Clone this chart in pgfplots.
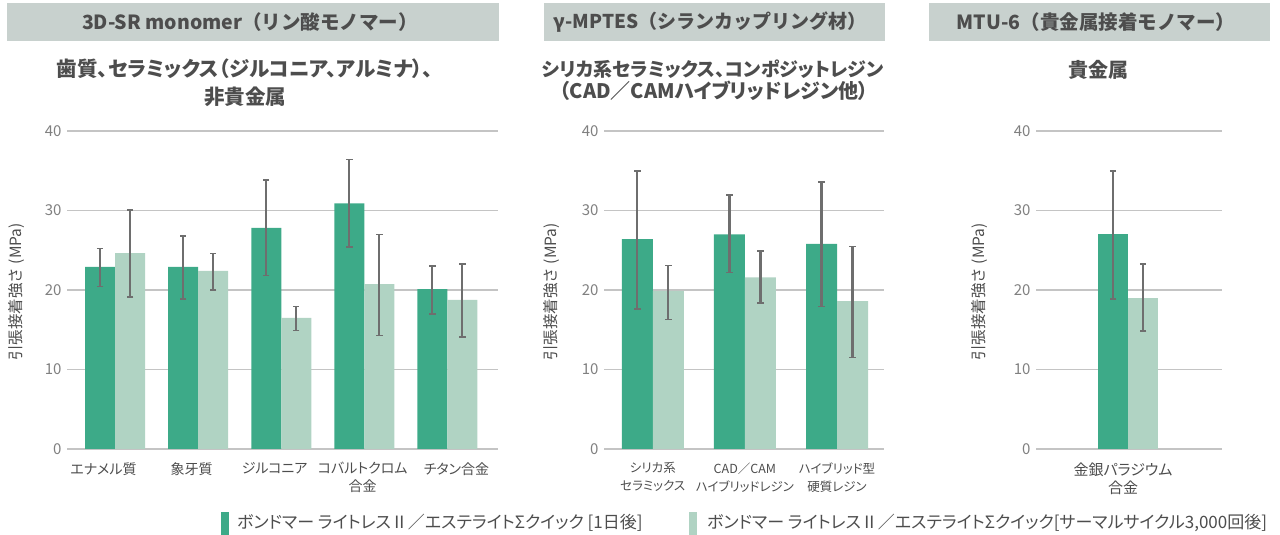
\documentclass[border=0pt]{standalone}
\usepackage{fontspec}
\setmainfont{Noto Sans CJK JP}
\newfontfamily\pf{Noto Sans CJK JP}[RawFeature=+palt]
\usepackage{pgfplots}
\usepackage{pgfplotstable}
\pgfplotsset{compat=1.18}
\definecolor{dk}{HTML}{3DAA88}
\definecolor{lt}{HTML}{B0D3C3}
\definecolor{hdr}{HTML}{C8D1CE}
\definecolor{txt}{HTML}{4D4D4D}
\definecolor{tickc}{HTML}{808080}
\definecolor{gridc}{HTML}{C4C4C4}
\definecolor{errc}{HTML}{6E6E6E}

\pgfplotstableread{
x d dp dm l lp lm
0 22.9 2.3 2.45 24.65 5.4 5.5
1 22.9 3.9 4.0 22.4 2.2 2.4
2 27.8 6.0 6.0 16.5 1.4 1.6
3 30.9 5.5 5.5 20.75 6.25 6.45
4 20.1 2.9 3.1 18.75 4.55 4.7
}\tabA
\pgfplotstableread{
x d dp dm l lp lm
0 26.4 8.6 8.8 19.9 3.2 3.6
1 27.0 4.95 4.8 21.6 3.3 3.2
2 25.8 7.8 7.9 18.6 6.85 7.1
}\tabB
\pgfplotstableread{
x d dp dm l lp lm
0 27.1 7.9 8.2 18.95 4.35 4.1
}\tabC

\pgfplotsset{panel/.style={
  scale only axis, anchor=south west, height=318pt,
  ymin=0, ymax=40, ytick={0,10,20,30,40},
  ymajorgrids, major grid style={color=gridc, line width=1.2pt},
  axis line style={draw=none},
  major tick length=0pt,
  ybar=0pt, bar width=30pt,
  xtick=data,
  /pgf/number format/assume math mode=true,
  yticklabel style={font=\fontsize{15pt}{17pt}\selectfont, color=tickc, xshift=-2pt},
  xticklabel style={font=\pf\fontsize{14pt}{18pt}\selectfont, color=txt, align=center, yshift=-10pt},
  ylabel={引張接着強さ (MPa)},
  ylabel style={font=\fontsize{15.5pt}{17pt}\selectfont, color=txt, anchor=center},
  clip=false,
  error bars/y dir=both, error bars/y explicit,
  error bars/error bar style={line width=2.2pt, color=errc},
  error bars/error mark options={rotate=90, mark size=3.2pt, line width=1.6pt, color=errc},
}}

\begin{document}
\begin{tikzpicture}
\path[use as bounding box] (0pt,0pt) rectangle (1280pt,535pt);
% headers
\fill[hdr] (7pt,494pt) rectangle (499pt,532pt);
\fill[hdr] (544pt,494pt) rectangle (885pt,532pt);
\fill[hdr] (929pt,494pt) rectangle (1270pt,532pt);
\node[font=\fontsize{19.5pt}{22pt}\selectfont\bfseries, text=txt] at (250pt,513pt) {3D-SR monomer（リン酸モノマー）};
\node[font=\fontsize{19pt}{22pt}\selectfont\bfseries, text=txt] at (710pt,513pt) {γ-MPTES（シランカップリング材）};
\node[font=\fontsize{19.5pt}{22pt}\selectfont\bfseries, text=txt] at (1096pt,513pt) {MTU-6（貴金属接着モノマー）};
% subtitles
\node[font=\pf\fontsize{20.5pt}{22pt}\selectfont\bfseries, text=txt] at (245pt,466pt) {歯質、セラミックス（ジルコニア、アルミナ）、};
\node[font=\pf\fontsize{20.5pt}{22pt}\selectfont\bfseries, text=txt] at (245pt,438pt) {非貴金属};
\node[font=\pf\fontsize{19pt}{22pt}\selectfont\bfseries, text=txt] at (713pt,466pt) {シリカ系セラミックス、コンポジットレジン};
\node[font=\pf\fontsize{20pt}{22pt}\selectfont\bfseries, text=txt] at (714pt,444pt) {（CAD／CAMハイブリッドレジン他）};
\node[font=\pf\fontsize{20pt}{22pt}\selectfont\bfseries, text=txt] at (1098pt,465pt) {貴金属};

\begin{axis}[panel, at={(67pt,86pt)}, width=431pt, xmin=-0.58, xmax=4.61,
  xtick={-0.14,0.92,1.92,2.98,4.11},
  xticklabels={エナメル質, 象牙質, ジルコニア, コバルトクロム\\合金, チタン合金},
  ylabel style={at={(axis description cs:-0.118,0.494)}}]
\addplot[fill=dk, draw=none] table[x=x, y=d, y error plus=dp, y error minus=dm] {\tabA};
\addplot[fill=lt, draw=none] table[x=x, y=l, y error plus=lp, y error minus=lm] {\tabA};
\end{axis}

\begin{axis}[panel, at={(604pt,86pt)}, width=280pt, xmin=-0.53, xmax=2.51, bar width=31pt,
  xticklabel style={font=\pf\fontsize{12.5pt}{18pt}\selectfont},
  xticklabels={シリカ系\\セラミックス, CAD／CAM\\ハイブリッドレジン, ハイブリッド型\\硬質レジン},
  ylabel style={at={(axis description cs:-0.189,0.494)}}]
\addplot[fill=dk, draw=none] table[x=x, y=d, y error plus=dp, y error minus=dm] {\tabB};
\addplot[fill=lt, draw=none] table[x=x, y=l, y error plus=lp, y error minus=lm] {\tabB};
\end{axis}

\begin{axis}[panel, at={(1036pt,86pt)}, width=186pt, xmin=-1, xmax=1.02,
  xtick={-0.055},
  xticklabel style={font=\pf\fontsize{15pt}{18pt}\selectfont},
  xticklabels={金銀パラジウム\\合金},
  ylabel style={at={(axis description cs:-0.306,0.494)}}]
\addplot[fill=dk, draw=none] table[x=x, y=d, y error plus=dp, y error minus=dm] {\tabC};
\addplot[fill=lt, draw=none] table[x=x, y=l, y error plus=lp, y error minus=lm] {\tabC};
\end{axis}

% legend
\fill[dk] (221pt,0pt) rectangle (229pt,23pt);
\node[anchor=west, inner sep=0pt, font=\pf\fontsize{17pt}{18pt}\selectfont, text=txt] at (237pt,12pt) {ボンドマー ライトレスⅡ／エステライトΣクイック [1日後]};
\fill[lt] (689pt,0pt) rectangle (697pt,23pt);
\node[anchor=west, inner sep=0pt, font=\pf\fontsize{17pt}{18pt}\selectfont, text=txt] at (707pt,12pt) {ボンドマー ライトレスⅡ／エステライトΣクイック[サーマルサイクル3,000回後]};
\end{tikzpicture}
\end{document}
